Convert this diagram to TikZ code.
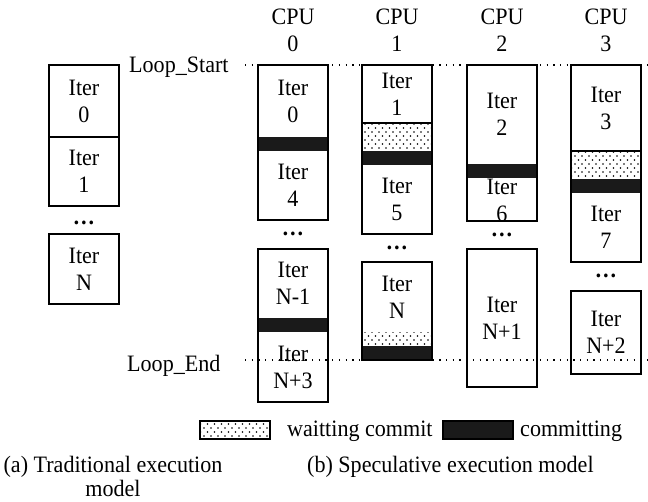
\documentclass[tikz,border=0pt]{standalone}
\usepackage{fontspec}
\setmainfont{Liberation Serif}[FakeStretch=0.94]
\usetikzlibrary{patterns}
\pgfdeclarepatternformonly{waitdots}{\pgfqpoint{-1pt}{-1pt}}{\pgfqpoint{8pt}{9pt}}{\pgfqpoint{7pt}{8pt}}{%
  \pgfpathcircle{\pgfqpoint{1pt}{1pt}}{0.8pt}%
  \pgfpathcircle{\pgfqpoint{4.5pt}{5pt}}{0.8pt}%
  \pgfusepath{fill}}
\definecolor{band}{HTML}{1A1A1A}
\tikzset{
  box/.style={draw=black, line width=1.5pt},
  commitband/.style={fill=band},
  waitband/.style={pattern=waitdots, pattern color=black},
  txt/.style={inner sep=0pt, align=center, font=\fontsize{23.5}{27}\selectfont},
  ell/.style={inner sep=0pt, font=\fontsize{23.5}{27}\selectfont\bfseries},
  loopline/.style={line width=1.3pt, dash pattern=on 1.3pt off 5.4pt},
}
\begin{document}
\begin{tikzpicture}[x=1pt,y=-1pt]
\useasboundingbox (0,0) rectangle (648,501);
\fill[white] (0,0) rectangle (648,501);

% ---- backgrounds of boxes ----
\foreach \a/\b/\c/\d in {49/65/119/206, 49/234/119/304,
  258/65/328/220, 258/249/328/402,
  362/65/432/234, 362/262/432/360,
  467/65/537/221, 467/249/537/387,
  571/65/641/262, 571/291/641/374}
  \fill[white] (\a,\b) rectangle (\c,\d);

% ---- bands ----
\fill[commitband] (258,137) rectangle (328,151);
\fill[commitband] (258,318) rectangle (328,332);
\fill[waitband] (362,123) rectangle (432,151);
\fill[commitband] (362,151) rectangle (432,165);
\fill[waitband] (362,332) rectangle (432,346);
\fill[commitband] (362,346) rectangle (432,360);
\fill[commitband] (467,164) rectangle (537,178);
\fill[waitband] (571,151) rectangle (641,179);
\fill[commitband] (571,179) rectangle (641,193);

% ---- loop lines ----
\coordinate (ls0) at (245,65);
\coordinate (ls1) at (648,65);
\coordinate (le0) at (245,360);
\coordinate (le1) at (648,360);
\draw[loopline] (ls0) -- (ls1);
\draw[loopline] (le0) -- (le1);

% ---- box outlines ----
\draw[box] (49,65) rectangle (119,206);
\draw[box] (49,137) -- (119,137);
\draw[box] (49,234) rectangle (119,304);
\draw[box] (258,65) rectangle (328,220);
\draw[box] (258,249) rectangle (328,402);
\draw[box] (362,65) rectangle (432,234);
\draw[box] (362,262) rectangle (432,360);
\draw[box] (467,65) rectangle (537,221);
\draw[box] (467,249) rectangle (537,387);
\draw[box] (571,65) rectangle (641,262);
\draw[box] (571,291) rectangle (641,374);
\draw[box] (362,123) -- (432,123);
\draw[box] (571,151) -- (641,151);

% ---- texts: traditional ----
\node[txt] (t0) at (84,101) {Iter\\0};
\node[txt] (t1) at (84,171.5) {Iter\\1};
\node[ell] (td) at (84,223) {…};
\node[txt] (tn) at (84,269) {Iter\\N};

% ---- CPU headers ----
\node[txt] (cpu0) at (293,30) {CPU\\0};
\node[txt] (cpu1) at (397,30) {CPU\\1};
\node[txt] (cpu2) at (502,30) {CPU\\2};
\node[txt] (cpu3) at (606,30) {CPU\\3};

% ---- CPU 0 ----
\node[txt] (c0a) at (293,101) {Iter\\0};
\node[txt] (c0b) at (293,185.5) {Iter\\4};
\node[ell] (c0d) at (293,234) {…};
\node[txt] (c0c) at (293,283.5) {Iter\\N-1};
\node[txt] (c0e) at (293,367) {Iter\\N+3};

% ---- CPU 1 ----
\node[txt] (c1a) at (397,94) {Iter\\1};
\node[txt] (c1b) at (397,199.5) {Iter\\5};
\node[ell] (c1d) at (397,248) {…};
\node[txt] (c1c) at (397,297) {Iter\\N};

% ---- CPU 2 ----
\node[txt] (c2a) at (502,114.5) {Iter\\2};
\node[txt] (c2b) at (502,200) {Iter\\6};
\node[ell] (c2d) at (502,235) {…};
\node[txt] (c2c) at (502,318) {Iter\\N+1};

% ---- CPU 3 ----
\node[txt] (c3a) at (606,108) {Iter\\3};
\node[txt] (c3b) at (606,227.5) {Iter\\7};
\node[ell] (c3d) at (606,276) {…};
\node[txt] (c3c) at (606,332.5) {Iter\\N+2};

% ---- loop labels ----
\node[txt, anchor=base west] (lstart) at (129,72) {Loop\_Start};
\node[txt, anchor=base west] (lend) at (127,371) {Loop\_End};

% ---- legend ----
\draw[box, line width=1.2pt, waitband] (200,421) rectangle (270,439);
\node[txt, anchor=base west] (lw) at (287,436) {waitting commit};
\draw[line width=1.2pt, draw=black, commitband] (443,421) rectangle (513,439);
\node[txt, anchor=base west] (lc) at (520,436) {committing};

% ---- captions ----
\node[txt, anchor=base, font=\fontsize{23.5}{24}\selectfont] (capa) at (113,496) {(a) Traditional execution\\model};
\node[txt, anchor=base west] (capb) at (307,472) {(b) Speculative execution model};
\end{tikzpicture}
\end{document}
